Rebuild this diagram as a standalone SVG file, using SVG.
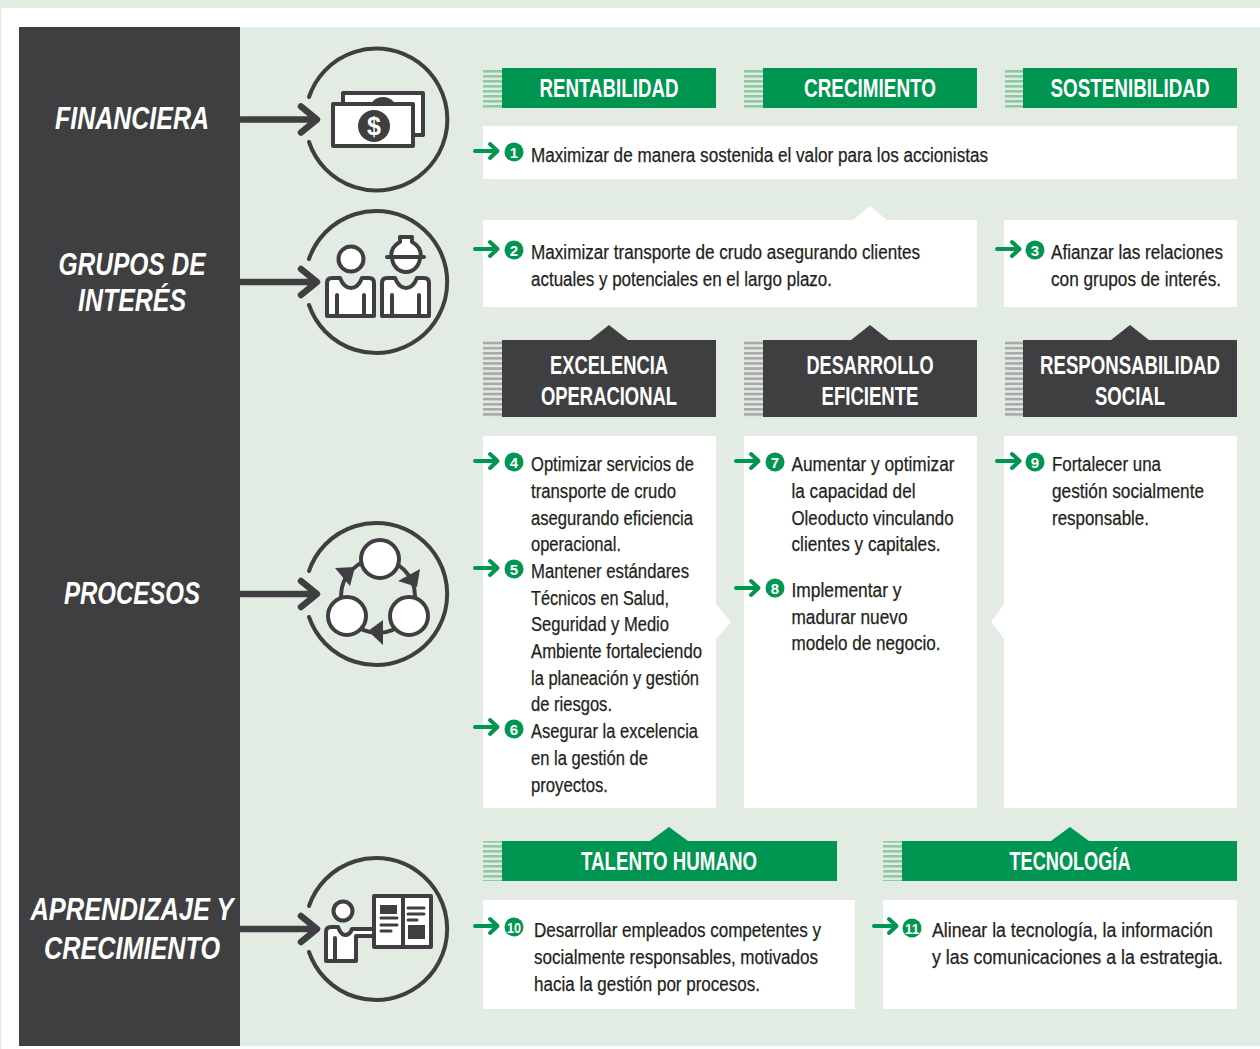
<svg xmlns="http://www.w3.org/2000/svg" width="1260" height="1049" viewBox="0 0 1260 1049">
<style>
text{font-family:"Liberation Sans",Arial,sans-serif}
.b{font-size:20px;fill:#1f1f21;stroke:#1f1f21;stroke-width:.25px}
.h{font-size:25px;font-weight:700;fill:#fff;text-anchor:middle}
.p{font-size:32px;font-weight:700;font-style:italic;fill:#fff;text-anchor:middle}
.n{font-size:15px;font-weight:700;fill:#fff;text-anchor:middle}
.ring{fill:none;stroke:#3f3f41;stroke-width:4;stroke-linecap:round}
.ic{fill:#fff;stroke:#3f3f41;stroke-width:4;stroke-linejoin:round;stroke-linecap:round}
.ln{fill:none;stroke:#3f3f41;stroke-width:4;stroke-linecap:round}
.tl{fill:none;stroke:#3f3f41;stroke-width:3;stroke-linecap:round}
.d{fill:#3f3f41}
.g{fill:#009550}
.w{fill:#fff}
.big{fill:none;stroke:#3f3f41;stroke-width:6.5;stroke-linecap:round;stroke-linejoin:round}
.sm{fill:none;stroke:#009550;stroke-width:4;stroke-linecap:round;stroke-linejoin:round}
</style>
<defs>
<pattern id="sg" width="5" height="5" patternUnits="userSpaceOnUse"><rect width="5" height="2.6" fill="#8ec9a4"/></pattern>
<pattern id="sd" width="5" height="5.1" patternUnits="userSpaceOnUse"><rect width="5" height="2.7" fill="#aaaaab"/></pattern>
<path id="sa" d="M0,0H22M15,-7L22.500,0L15,7"/>
<path id="ba" d="M0,0H75M60,-13L76,0L60,13"/>
</defs>
<rect width="1260" height="1049" fill="#e2ece3"/>
<rect x="1" y="8" width="1259" height="1041" fill="#fff"/>
<rect x="240" y="27" width="1020" height="1019" fill="#e2ece3"/>

<g id="perspectives">
<rect x="19" y="27" width="221" height="1019" class="d"/>
<text class="p" x="132" y="129" textLength="154" lengthAdjust="spacingAndGlyphs">FINANCIERA</text>
<text class="p" x="132" y="275" textLength="147" lengthAdjust="spacingAndGlyphs">GRUPOS DE</text>
<text class="p" x="132" y="311" textLength="108" lengthAdjust="spacingAndGlyphs">INTERÉS</text>
<text class="p" x="132" y="604" textLength="136" lengthAdjust="spacingAndGlyphs">PROCESOS</text>
<text class="p" x="132" y="920" textLength="203" lengthAdjust="spacingAndGlyphs">APRENDIZAJE Y</text>
<text class="p" x="132" y="959" textLength="176" lengthAdjust="spacingAndGlyphs">CRECIMIENTO</text>
</g>

<g id="icon-financiera">
<path class="ring" d="M309,97A71,71 0 1 1 309,142"/>
<rect class="ic" x="343" y="93" width="80" height="42"/>
<circle class="d" cx="383" cy="111" r="14"/>
<rect class="ic" x="333" y="104" width="80" height="42"/>
<circle class="d" cx="374" cy="126" r="16"/>
<text x="374" y="135" font-size="25" font-weight="700" fill="#fff" text-anchor="middle">$</text>
</g>
<g id="icon-grupos">
<path class="ring" d="M309,259A71,71 0 1 1 309,305"/>
<circle class="ic" cx="351" cy="259" r="12.500"/>
<path class="ic" d="M327,316V283Q327,278 332,278H340Q344,288 351,288Q358,288 362,278H369Q374,278 374,283V316Z"/>
<path class="ln" d="M337,295V316M364,295V316"/>
<path class="ic" d="M391,257C391,247 398,243 400,242V237H412V242C414,243 421,247 421,257Z"/>
<path class="ic" d="M392,257A14,15 0 0 0 420,257Z"/>
<path class="ln" d="M387,257H424"/>
<path class="ic" d="M382,316V283Q382,278 387,278H395Q399,288 406,288Q413,288 417,278H424Q429,278 429,283V316Z"/>
<path class="ln" d="M392,295V316M419,295V316"/>
</g>
<g id="icon-procesos">
<path class="ring" d="M309,571A71,71 0 1 1 309,617"/>
<circle class="ln" cx="378" cy="596" r="37"/>
<path class="d" d="M335,568L355,567L350,586ZM420,569L398,581L417,587ZM383,620L368,631L383,645Z"/>
<circle class="ic" cx="380" cy="559" r="19"/>
<circle class="ic" cx="347" cy="616" r="19"/>
<circle class="ic" cx="409" cy="616" r="19"/>
</g>
<g id="icon-aprendizaje">
<path class="ring" d="M309,906A71,71 0 1 1 309,952"/>
<circle class="ic" cx="343" cy="911" r="9.500"/>
<path class="ic" d="M326,961V932Q326,927 331,927H338Q341,935 345,935Q350,935 352,929H375V936H356V961Z"/>
<path class="ln" d="M335,938V961"/>
<rect class="ic" x="374" y="896" width="57" height="51"/>
<path class="ln" d="M403,896V947"/>
<rect class="d" x="380" y="905" width="17" height="9"/>
<rect class="d" x="408" y="925" width="17" height="14"/>
<path class="tl" d="M381,918H397M381,925H397M381,931H391M408,908H424M408,914H424M408,920H417"/>
</g>

<g id="rentabilidad"><rect x="483" y="68" width="19" height="40" fill="url(#sg)"/><rect x="502" y="68" width="214" height="40" class="g"/><text class="h" x="609" y="97" textLength="139" lengthAdjust="spacingAndGlyphs">RENTABILIDAD</text></g>
<g id="crecimiento"><rect x="744" y="68" width="19" height="40" fill="url(#sg)"/><rect x="763" y="68" width="214" height="40" class="g"/><text class="h" x="870" y="97" textLength="132" lengthAdjust="spacingAndGlyphs">CRECIMIENTO</text></g>
<g id="sostenibilidad"><rect x="1005" y="68" width="18" height="40" fill="url(#sg)"/><rect x="1023" y="68" width="214" height="40" class="g"/><text class="h" x="1130" y="97" textLength="159" lengthAdjust="spacingAndGlyphs">SOSTENIBILIDAD</text></g>

<g id="obj-1"><rect x="483" y="126" width="754" height="53" class="w"/><text class="b" x="531" y="162" textLength="457" lengthAdjust="spacingAndGlyphs">Maximizar de manera sostenida el valor para los accionistas</text></g>
<g id="obj-2"><path class="w" d="M483,220H853L870,206L887,220H977V307H483Z"/><text class="b" x="531" y="259" textLength="389" lengthAdjust="spacingAndGlyphs">Maximizar transporte de crudo asegurando clientes</text><text class="b" x="531" y="286" textLength="301" lengthAdjust="spacingAndGlyphs">actuales y potenciales en el largo plazo.</text></g>
<g id="obj-3"><rect x="1004" y="220" width="233" height="87" class="w"/><text class="b" x="1051" y="259" textLength="172" lengthAdjust="spacingAndGlyphs">Afianzar las relaciones</text><text class="b" x="1051" y="286" textLength="170" lengthAdjust="spacingAndGlyphs">con grupos de interés.</text></g>

<g id="excelencia"><path class="d" d="M590,340L609,325L628,340Z"/><rect x="483" y="340" width="19" height="77" fill="url(#sd)"/><rect x="502" y="340" width="214" height="77" class="d"/><text class="h" x="609" y="374" textLength="118" lengthAdjust="spacingAndGlyphs">EXCELENCIA</text><text class="h" x="609" y="405" textLength="136" lengthAdjust="spacingAndGlyphs">OPERACIONAL</text></g>
<g id="desarrollo"><path class="d" d="M851,340L870,325L889,340Z"/><rect x="744" y="340" width="19" height="77" fill="url(#sd)"/><rect x="763" y="340" width="214" height="77" class="d"/><text class="h" x="870" y="374" textLength="127" lengthAdjust="spacingAndGlyphs">DESARROLLO</text><text class="h" x="870" y="405" textLength="97" lengthAdjust="spacingAndGlyphs">EFICIENTE</text></g>
<g id="responsabilidad"><path class="d" d="M1111,340L1130,325L1149,340Z"/><rect x="1005" y="340" width="18" height="77" fill="url(#sd)"/><rect x="1023" y="340" width="214" height="77" class="d"/><text class="h" transform="translate(1130,374) scale(.745,1)">RESPONSABILIDAD</text><text class="h" x="1130" y="405" textLength="70" lengthAdjust="spacingAndGlyphs">SOCIAL</text></g>

<g id="obj-4-5-6"><path class="w" d="M483,436H716V604L731,622L716,639V808H483Z"/>
<text class="b" x="531" y="471" textLength="163" lengthAdjust="spacingAndGlyphs">Optimizar servicios de</text>
<text class="b" x="531" y="498" textLength="145" lengthAdjust="spacingAndGlyphs">transporte de crudo</text>
<text class="b" x="531" y="525" textLength="162" lengthAdjust="spacingAndGlyphs">asegurando eficiencia</text>
<text class="b" x="531" y="551" textLength="90" lengthAdjust="spacingAndGlyphs">operacional.</text>
<text class="b" x="531" y="578" textLength="158" lengthAdjust="spacingAndGlyphs">Mantener estándares</text>
<text class="b" x="531" y="605" textLength="138" lengthAdjust="spacingAndGlyphs">Técnicos en Salud,</text>
<text class="b" x="531" y="631" textLength="138" lengthAdjust="spacingAndGlyphs">Seguridad y Medio</text>
<text class="b" x="531" y="658" textLength="171" lengthAdjust="spacingAndGlyphs">Ambiente fortaleciendo</text>
<text class="b" x="531" y="685" textLength="168" lengthAdjust="spacingAndGlyphs">la planeación y gestión</text>
<text class="b" x="531" y="711" textLength="81" lengthAdjust="spacingAndGlyphs">de riesgos.</text>
<text class="b" x="531" y="738" textLength="167" lengthAdjust="spacingAndGlyphs">Asegurar la excelencia</text>
<text class="b" x="531" y="765" textLength="117" lengthAdjust="spacingAndGlyphs">en la gestión de</text>
<text class="b" x="531" y="792" textLength="77" lengthAdjust="spacingAndGlyphs">proyectos.</text>
</g>
<g id="obj-7-8"><rect x="744" y="436" width="233" height="372" class="w"/>
<text class="b" x="791.500" y="471" textLength="163" lengthAdjust="spacingAndGlyphs">Aumentar y optimizar</text>
<text class="b" x="791.500" y="498" textLength="124" lengthAdjust="spacingAndGlyphs">la capacidad del</text>
<text class="b" x="791.500" y="525" textLength="162" lengthAdjust="spacingAndGlyphs">Oleoducto vinculando</text>
<text class="b" x="791.500" y="551" textLength="149" lengthAdjust="spacingAndGlyphs">clientes y capitales.</text>
<text class="b" x="791.500" y="597" textLength="110" lengthAdjust="spacingAndGlyphs">Implementar y</text>
<text class="b" x="791.500" y="624" textLength="116" lengthAdjust="spacingAndGlyphs">madurar nuevo</text>
<text class="b" x="791.500" y="650" textLength="149" lengthAdjust="spacingAndGlyphs">modelo de negocio.</text>
</g>
<g id="obj-9"><path class="w" d="M1004,436H1237V808H1004V639L991,622L1004,604Z"/>
<text class="b" x="1052" y="471" textLength="109" lengthAdjust="spacingAndGlyphs">Fortalecer una</text>
<text class="b" x="1052" y="498" textLength="152" lengthAdjust="spacingAndGlyphs">gestión socialmente</text>
<text class="b" x="1052" y="525" textLength="97" lengthAdjust="spacingAndGlyphs">responsable.</text>
</g>

<g id="talento"><path class="g" d="M650,841L669,827L688,841Z"/><rect x="483" y="841" width="19" height="40" fill="url(#sg)"/><rect x="502" y="841" width="335" height="40" class="g"/><text class="h" x="669" y="870" textLength="176" lengthAdjust="spacingAndGlyphs">TALENTO HUMANO</text></g>
<g id="tecnologia"><path class="g" d="M1051,841L1070,827L1089,841Z"/><rect x="883" y="841" width="19" height="40" fill="url(#sg)"/><rect x="902" y="841" width="335" height="40" class="g"/><text class="h" x="1070" y="870" textLength="121" lengthAdjust="spacingAndGlyphs">TECNOLOGÍA</text></g>

<g id="obj-10"><rect x="483" y="900" width="372" height="109" class="w"/>
<text class="b" x="534" y="937" textLength="287" lengthAdjust="spacingAndGlyphs">Desarrollar empleados competentes y</text>
<text class="b" x="534" y="964" textLength="284" lengthAdjust="spacingAndGlyphs">socialmente responsables, motivados</text>
<text class="b" x="534" y="991" textLength="226" lengthAdjust="spacingAndGlyphs">hacia la gestión por procesos.</text>
</g>
<g id="obj-11"><rect x="883" y="900" width="354" height="109" class="w"/>
<text class="b" x="932" y="937" textLength="281" lengthAdjust="spacingAndGlyphs">Alinear la tecnología, la información</text>
<text class="b" x="932" y="964" textLength="291" lengthAdjust="spacingAndGlyphs">y las comunicaciones a la estrategia.</text>
</g>

<g id="connectors">
<use href="#ba" x="241" y="119.500" class="big"/>
<use href="#ba" x="241" y="282" class="big"/>
<use href="#ba" x="241" y="594" class="big"/>
<use href="#ba" x="241" y="929" class="big"/>
<use href="#sa" x="475" y="151" class="sm"/>
<use href="#sa" x="475" y="249" class="sm"/>
<use href="#sa" x="997" y="249" class="sm"/>
<use href="#sa" x="475" y="461" class="sm"/>
<use href="#sa" x="475" y="568" class="sm"/>
<use href="#sa" x="475" y="727" class="sm"/>
<use href="#sa" x="736" y="461" class="sm"/>
<use href="#sa" x="736" y="588" class="sm"/>
<use href="#sa" x="997" y="461" class="sm"/>
<use href="#sa" x="475" y="926" class="sm"/>
<use href="#sa" x="874" y="926" class="sm"/>
</g>

<g id="badges">
<circle class="g" cx="514" cy="152" r="9.500"/><text class="n" x="514" y="157.500">1</text>
<circle class="g" cx="514" cy="250" r="9.500"/><text class="n" x="514" y="255.500">2</text>
<circle class="g" cx="1035" cy="250" r="9.500"/><text class="n" x="1035" y="255.500">3</text>
<circle class="g" cx="514" cy="462" r="9.500"/><text class="n" x="514" y="467.500">4</text>
<circle class="g" cx="514" cy="569" r="9.500"/><text class="n" x="514" y="574.500">5</text>
<circle class="g" cx="514" cy="729" r="9.500"/><text class="n" x="514" y="734.500">6</text>
<circle class="g" cx="775" cy="462" r="9.500"/><text class="n" x="775" y="467.500">7</text>
<circle class="g" cx="775" cy="588" r="9.500"/><text class="n" x="775" y="593.500">8</text>
<circle class="g" cx="1035" cy="462" r="9.500"/><text class="n" x="1035" y="467.500">9</text>
<circle class="g" cx="514" cy="927" r="9.500"/><text class="n" x="514" y="932.500" textLength="14" lengthAdjust="spacingAndGlyphs">10</text>
<circle class="g" cx="912" cy="928" r="9.500"/><text class="n" x="912" y="933.500" textLength="14" lengthAdjust="spacingAndGlyphs">11</text>
</g>
</svg>
